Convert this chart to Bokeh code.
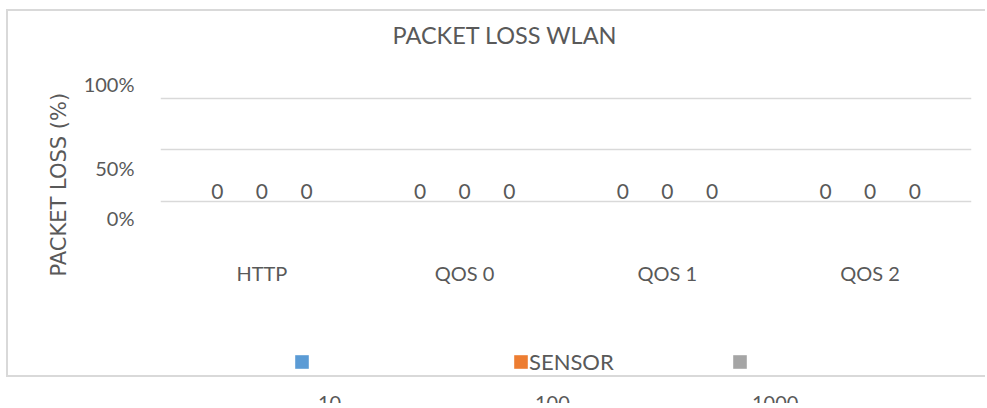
from bokeh.plotting import figure
from bokeh.models import (FactorRange, Range1d, FixedTicker, Legend, LegendItem,
                          Title, ColumnDataSource)
from bokeh.transform import dodge
from bokeh.layouts import column
from bokeh.embed import file_html
from bokeh.resources import INLINE
from bokeh.core.properties import value

# ---------------- data ----------------
title_text = "PACKET LOSS WLAN"
y_label = "PACKET LOSS (%)"
categories = ["HTTP", "QOS 0", "QOS 1", "QOS 2"]
series_names = ["10", "100", "1000"]
loss_10 = [0, 0, 0, 0]
loss_100 = [0, 0, 0, 0]
loss_1000 = [0, 0, 0, 0]
legend_title = "SENSOR"
y_ticks = [0, 50, 100]
y_tick_labels = ["0%", "50%", "100%"]

# ---------------- style ----------------
TEXT = "#595959"
GRID = "#d9d9d9"
colors = ["#5b9bd5", "#ed7d31", "#a5a5a5"]
offsets = [-0.22, 0.0, 0.22]
PX_PER_UNIT = 1.03
# vertical nudges (px, positive = up) of tick labels as laid out in the original
label_nudge_px = [-16, -17.5, 14]
label_pos = [int(round(t + n / PX_PER_UNIT)) for t, n in zip(y_ticks, label_nudge_px)]

border_css = f"2px solid {GRID}"

src = ColumnDataSource(dict(
    cats=categories,
    s0=loss_10, s1=loss_100, s2=loss_1000,
    t0=[str(v) for v in loss_10], t1=[str(v) for v in loss_100],
    t2=[str(v) for v in loss_1000],
))

# ---------------- main chart ----------------
p = figure(width=979, height=319,
           x_range=FactorRange(factors=categories, range_padding=0),
           y_range=Range1d(-23.3, 146.6),
           output_backend="svg", toolbar_location=None,
           min_border_left=150, min_border_right=16,
           min_border_top=39, min_border_bottom=105,
           outline_line_color=None,
           styles={"margin-left": "6px", "margin-top": "9px",
                   "border-top": border_css, "border-left": border_css})

p.title.text = title_text
p.title.align = "left"
p.title.offset = 232
p.title.standoff = 4
p.title.vertical_align = "bottom"
p.title.text_font = "Lato"
p.title.text_font_size = "23.5px"
p.title.text_font_style = "normal"
p.title.text_color = TEXT

p.add_layout(Title(text=y_label, align="left", offset=-51, standoff=20,
                   vertical_align="bottom",
                   text_font="DejaVu Sans", text_font_size="21px",
                   text_font_style="normal", text_color=TEXT), "left")

yax = p.yaxis[0]
yax.ticker = FixedTicker(ticks=label_pos)
yax.major_label_overrides = {pos: lab for pos, lab in zip(label_pos, y_tick_labels)}
yax.major_tick_line_color = None
yax.minor_tick_line_color = None
yax.axis_line_color = None
yax.major_label_standoff = 20
yax.major_label_text_font = "Lato"
yax.major_label_text_font_size = "20px"
yax.major_label_text_color = TEXT

xax = p.xaxis[0]
xax.major_tick_line_color = None
xax.minor_tick_line_color = None
xax.axis_line_color = None
xax.major_label_standoff = 29
xax.major_label_text_font = "Lato"
xax.major_label_text_font_size = "20px"
xax.major_label_text_color = TEXT

p.xgrid.visible = False
p.ygrid.ticker = FixedTicker(ticks=y_ticks)
p.ygrid.grid_line_color = GRID
p.ygrid.grid_line_width = 1.5

for i in range(3):
    p.vbar(x=dodge("cats", offsets[i], range=p.x_range), top=f"s{i}", bottom=0,
           width=0.2, fill_color=colors[i], line_color=None, source=src)
    p.text(x=dodge("cats", offsets[i], range=p.x_range), y=f"s{i}", text=f"t{i}",
           source=src, text_align="center", text_baseline="middle", y_offset=-10,
           text_font=value("Lato"), text_font_size="21px", text_color=TEXT)

# ---------------- legend strip (inside the chart border) ----------------
pl = figure(width=979, height=49,
            x_range=FactorRange(factors=categories, range_padding=0),
            y_range=Range1d(0, 1),
            output_backend="svg", toolbar_location=None,
            x_axis_location=None, y_axis_location=None,
            min_border_left=150, min_border_right=16, min_border_top=0,
            min_border_bottom=0, outline_line_color=None,
            styles={"margin-left": "6px",
                    "border-left": border_css, "border-bottom": border_css})
pl.grid.visible = False
swatches = [pl.vbar(x=dodge("cats", offsets[i], range=pl.x_range), top=f"s{i}",
                    bottom=0, width=0.2, fill_color=colors[i], line_color=None,
                    source=src) for i in range(3)]
leg1 = Legend(items=[LegendItem(label="", renderers=[swatches[0]]),
                     LegendItem(label=legend_title, renderers=[swatches[1]]),
                     LegendItem(label="", renderers=[swatches[2]])],
              orientation="horizontal", location=(133, 2),
              glyph_width=17, glyph_height=17, label_standoff=-3, label_width=190,
              spacing=12, padding=0, margin=0, border_line_color=None,
              background_fill_alpha=0, label_text_font="Lato",
              label_text_font_size="22px", label_text_color=TEXT)
pl.add_layout(leg1)

# ---------------- strip below the chart border with the series names ----------------
p2 = figure(width=981, height=26, x_range=Range1d(0, 1), y_range=Range1d(0, 1),
            output_backend="svg", toolbar_location=None,
            x_axis_location=None, y_axis_location=None,
            min_border_left=152, min_border_right=0, min_border_top=0,
            min_border_bottom=0, outline_line_color=None,
            styles={"margin-left": "6px"})
p2.grid.visible = False
ghosts = [p2.vbar(x=[], top=[], width=0.1, fill_alpha=0, line_alpha=0) for _ in series_names]
leg2 = Legend(items=[LegendItem(label=n, renderers=[g]) for n, g in zip(series_names, ghosts)],
              orientation="horizontal", location=(139, -11),
              glyph_width=13, glyph_height=13, label_standoff=8, label_width=184,
              spacing=12, padding=0, margin=0, border_line_color=None,
              background_fill_alpha=0, label_text_font="Lato",
              label_text_font_size="20px", label_text_color=TEXT)
p2.add_layout(leg2)

layout = column(p, pl, p2)
open("out.html", "w").write(file_html(layout, INLINE))
